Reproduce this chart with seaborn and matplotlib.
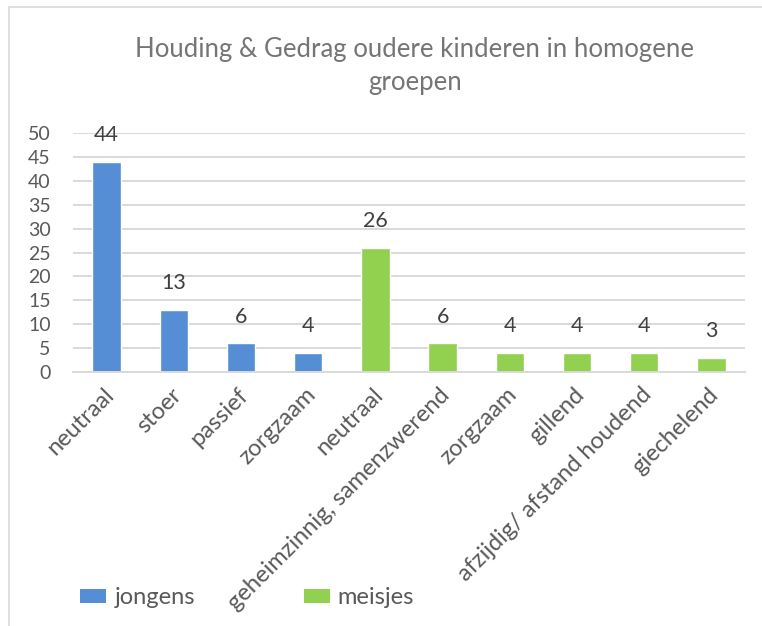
import pandas as pd
import matplotlib.pyplot as plt
import seaborn as sns
from matplotlib.patches import Patch, Rectangle
from matplotlib.transforms import ScaledTranslation

# Gegevens
labels_jongens = ['neutraal', 'stoer', 'passief', 'zorgzaam']
waarden_jongens = [44, 13, 6, 4]
labels_meisjes = ['neutraal', 'geheimzinnig, samenzwerend', 'zorgzaam',
                  'gillend', 'afzijdig/ afstand houdend', 'giechelend']
waarden_meisjes = [26, 6, 4, 4, 4, 3]
groepen = ['jongens', 'meisjes']
kleuren = {'jongens': '#558ED5', 'meisjes': '#92D050'}

labels = labels_jongens + labels_meisjes
df = pd.DataFrame({
    'sleutel': [f'j{i}' for i in range(len(labels_jongens))] + [f'm{i}' for i in range(len(labels_meisjes))],
    'label': labels,
    'aantal': waarden_jongens + waarden_meisjes,
    'groep': ['jongens'] * len(labels_jongens) + ['meisjes'] * len(labels_meisjes),
})

sns.set_style('white')
plt.rcParams['font.family'] = ['Lato', 'DejaVu Sans']

fig = plt.figure(figsize=(7.62, 6.26), dpi=100)
W, H = 762, 626
ax = fig.add_axes([73 / W, 1 - 372 / H, (745 - 73) / W, (372 - 133) / H])

sns.barplot(data=df, x='sleutel', y='aantal', hue='groep', palette=kleuren,
            dodge=False, width=0.42, saturation=1, legend=False, ax=ax)

ax.set_ylim(0, 50)
ax.set_yticks(range(0, 51, 5))
ax.set_xlim(-0.5, len(labels) - 0.5)
ax.grid(axis='y', color='#D9D9D9', linewidth=1.4)
ax.set_axisbelow(True)
for s in ['left', 'right', 'top']:
    ax.spines[s].set_visible(False)
ax.spines['bottom'].set_color('#D9D9D9')
ax.spines['bottom'].set_linewidth(1.4)
ax.tick_params(axis='y', length=0, pad=16, labelsize=14, labelcolor='#595959')
ax.tick_params(axis='x', length=0, pad=14, labelsize=17, labelcolor='#595959')
ax.set_xlabel('')
ax.set_ylabel('')

ax.set_xticks(range(len(labels)))
ax.set_xticklabels(labels, rotation=45, ha='right', va='center', rotation_mode='anchor')
offset = ScaledTranslation(4 / 100, 0, fig.dpi_scale_trans)
for t in ax.get_xticklabels():
    t.set_transform(t.get_transform() + offset)

for c in ax.containers:
    ax.bar_label(c, padding=12, fontsize=15.5, color='#404040')

fig.text(415 / W, 1 - 90 / H, 'Houding & Gedrag oudere kinderen in homogene\ngroepen',
         ha='center', va='baseline', fontsize=18.5, color='#757575', linespacing=1.4)

handles = [Patch(facecolor=kleuren[g], edgecolor='none') for g in groepen]
fig.legend(handles, groepen, loc='center left', bbox_to_anchor=(59 / W, 1 - 598 / H),
           ncol=2, frameon=False, fontsize=17, labelcolor='#595959',
           handlelength=1.1, handleheight=0.5, handletextpad=0.35, columnspacing=4.6)

fig.patches.append(Rectangle((9 / W, -0.1), 2, 1 - 7 / H + 0.1, transform=fig.transFigure,
                             fill=False, edgecolor='#D9D9D9', linewidth=1.2))

fig.savefig('out.png', dpi=100)
